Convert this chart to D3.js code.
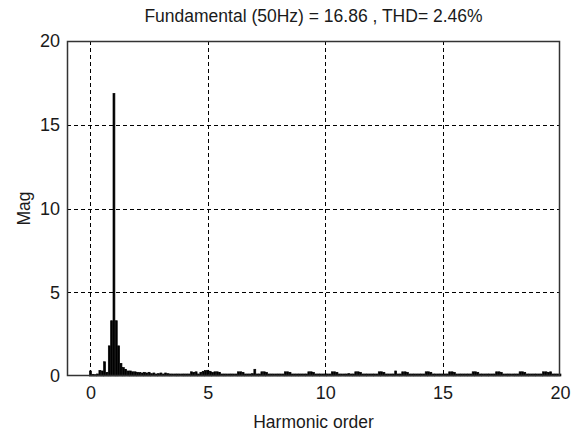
<!DOCTYPE html>
<html>
<head>
<meta charset="utf-8">
<script src="https://d3js.org/d3.v7.min.js"></script>
<style>
  body { margin: 0; background: #fff; }
  text { font-family: "Liberation Sans", Arial, sans-serif; fill: #1a1a1a; }
</style>
</head>
<body>
<svg id="chart" width="571" height="434"></svg>
<script>
// harmonic order of each FFT bin (0.1 step, 0 .. 20)
var orders = d3.range(0, 201).map(function(i) { return i / 10; });

// magnitude of each bin, one row per harmonic order (k.0 .. k.9)
var mags = [
  0.30, 0.10, 0.08, 0.12, 0.33, 0.30, 0.85, 0.22, 1.80, 3.30,
  16.86, 3.30, 1.80, 0.75, 0.50, 0.40, 0.30, 0.30, 0.25, 0.25,
  0.22, 0.20, 0.18, 0.22, 0.18, 0.22, 0.14, 0.18, 0.12, 0.14,
  0.18, 0.12, 0.18, 0.14, 0.12, 0.12, 0.12, 0.12, 0.12, 0.12,
  0.12, 0.12, 0.12, 0.25, 0.22, 0.25, 0.12, 0.22, 0.28, 0.32,
  0.34, 0.28, 0.22, 0.25, 0.25, 0.22, 0.12, 0.12, 0.12, 0.12,
  0.12, 0.12, 0.12, 0.25, 0.25, 0.22, 0.12, 0.12, 0.12, 0.14,
  0.40, 0.12, 0.12, 0.25, 0.25, 0.22, 0.12, 0.12, 0.12, 0.12,
  0.12, 0.12, 0.12, 0.25, 0.25, 0.22, 0.12, 0.12, 0.12, 0.12,
  0.12, 0.12, 0.12, 0.25, 0.25, 0.22, 0.12, 0.12, 0.12, 0.12,
  0.12, 0.12, 0.12, 0.25, 0.25, 0.22, 0.12, 0.12, 0.12, 0.12,
  0.14, 0.12, 0.12, 0.25, 0.25, 0.22, 0.12, 0.12, 0.12, 0.12,
  0.12, 0.12, 0.12, 0.25, 0.25, 0.22, 0.12, 0.12, 0.12, 0.12,
  0.30, 0.12, 0.12, 0.25, 0.25, 0.22, 0.12, 0.12, 0.12, 0.12,
  0.12, 0.12, 0.12, 0.25, 0.25, 0.22, 0.12, 0.12, 0.12, 0.12,
  0.12, 0.12, 0.12, 0.25, 0.25, 0.22, 0.12, 0.12, 0.12, 0.12,
  0.12, 0.12, 0.12, 0.25, 0.25, 0.22, 0.12, 0.12, 0.12, 0.12,
  0.12, 0.12, 0.12, 0.25, 0.25, 0.22, 0.12, 0.12, 0.12, 0.12,
  0.12, 0.12, 0.12, 0.25, 0.25, 0.22, 0.12, 0.12, 0.12, 0.12,
  0.12, 0.12, 0.12, 0.25, 0.25, 0.22, 0.25, 0.12, 0.12, 0.12,
  0.12
];

var xTicks = [0, 5, 10, 15, 20];
var yTicks = [0, 5, 10, 15, 20];

var titleText = "Fundamental (50Hz) = 16.86 , THD= 2.46%";
var xLabel = "Harmonic order";
var yLabel = "Mag";

var svg = d3.select("#chart");
var margin = { left: 67, right: 11, top: 41, bottom: 58 };
var width = 571 - margin.left - margin.right,
    height = 434 - margin.top - margin.bottom;

var g = svg.append("g")
  .attr("transform", "translate(" + margin.left + "," + margin.top + ")");

var x = d3.scaleLinear().domain([-1, 20]).range([0, width]);
var y = d3.scaleLinear().domain([0, 20]).range([height, 0]);

// dashed grid
g.append("g").selectAll("line")
  .data(xTicks.filter(function(d) { return d < 20; }))
  .enter().append("line")
    .attr("x1", function(d) { return Math.round(x(d)) + 0.5; })
    .attr("x2", function(d) { return Math.round(x(d)) + 0.5; })
    .attr("y1", 0).attr("y2", height)
    .attr("stroke", "#000")
    .attr("stroke-dasharray", "4,3");

g.append("g").selectAll("line")
  .data(yTicks.filter(function(d) { return d > 0 && d < 20; }))
  .enter().append("line")
    .attr("y1", function(d) { return Math.round(y(d)) + 0.5; })
    .attr("y2", function(d) { return Math.round(y(d)) + 0.5; })
    .attr("x1", 0).attr("x2", width)
    .attr("stroke", "#000")
    .attr("stroke-dasharray", "4,3");

// spectrum bars
var bw = (x(0.1) - x(0)) * 0.8;
g.append("g").selectAll("rect")
  .data(orders)
  .enter().append("rect")
    .attr("x", function(d) { return x(d) - bw / 2; })
    .attr("width", bw)
    .attr("y", function(d, i) { return y(mags[i]); })
    .attr("height", function(d, i) { return height - y(mags[i]); })
    .attr("fill", "#000")
    .attr("stroke", "#000")
    .attr("stroke-width", 0.7);

// axes
var xAxis = g.append("g")
  .attr("transform", "translate(0," + height + ")")
  .call(d3.axisBottom(x).tickValues(xTicks).tickSize(0).tickPadding(10));
var yAxis = g.append("g")
  .call(d3.axisLeft(y).tickValues(yTicks).tickSize(0).tickPadding(7));

[xAxis, yAxis].forEach(function(a) {
  a.select(".domain").remove();
  a.selectAll("text")
    .style("font-size", "18px")
    .style("font-family", "'Liberation Sans', Arial, sans-serif")
    .attr("fill", "#1a1a1a");
});

// box
g.append("rect")
  .attr("x", 0.5).attr("y", 0.5)
  .attr("width", width - 1).attr("height", height - 1)
  .attr("fill", "none")
  .attr("stroke", "#333")
  .attr("stroke-width", 1.5);

// labels
svg.append("text")
  .attr("x", margin.left + width / 2)
  .attr("y", 22)
  .attr("text-anchor", "middle")
  .style("font-size", "17.5px")
  .text(titleText);

svg.append("text")
  .attr("x", margin.left + width / 2)
  .attr("y", 428)
  .attr("text-anchor", "middle")
  .style("font-size", "17.5px")
  .text(xLabel);

svg.append("text")
  .attr("transform", "translate(30," + (margin.top + height / 2) + ") rotate(-90)")
  .attr("text-anchor", "middle")
  .style("font-size", "17.5px")
  .text(yLabel);
</script>
</body>
</html>
